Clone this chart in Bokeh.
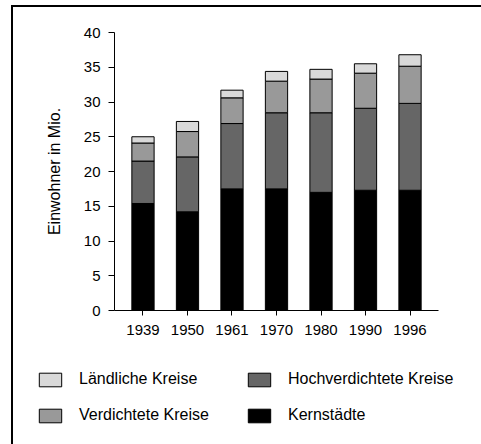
from bokeh.plotting import figure
from bokeh.models import (FactorRange, Range1d, SingleIntervalTicker, Legend,
                          LegendItem, ColumnDataSource)
from bokeh.embed import file_html
from bokeh.resources import INLINE

years = ["1939", "1950", "1961", "1970", "1980", "1990", "1996"]
kernstaedte = [15.4, 14.2, 17.5, 17.5, 17.0, 17.3, 17.3]
hochverdichtet = [6.1, 7.9, 9.4, 10.95, 11.45, 11.8, 12.5]
verdichtet = [2.6, 3.65, 3.7, 4.55, 4.85, 5.05, 5.35]
laendlich = [0.9, 1.45, 1.1, 1.4, 1.4, 1.35, 1.65]

series = ["kern", "hoch", "verd", "laend"]
labels = ["Kernstädte", "Hochverdichtete Kreise", "Verdichtete Kreise", "Ländliche Kreise"]
colors = ["#000000", "#666666", "#999999", "#d9d9d9"]

source = ColumnDataSource(dict(years=years, kern=kernstaedte, hoch=hochverdichtet,
                               verd=verdichtet, laend=laendlich))

FONT = "Liberation Sans"

# ---- main chart (canvas starts at page (13, 7) because of css margin + border)
p = figure(width=468, height=343, output_backend="svg", toolbar_location=None,
           x_range=FactorRange(factors=years, range_padding=0.14,
                               range_padding_units="absolute"),
           y_range=Range1d(0, 40),
           min_border_left=101, min_border_right=43,
           min_border_top=25, min_border_bottom=40)
p.frame_width = 324
p.frame_height = 278
p.styles = {"margin-left": "11px", "margin-top": "5px",
            "border-left": "2px solid #000000", "border-top": "2px solid #000000"}

renderers = p.vbar_stack(series, x="years", width=0.5, source=source,
                         fill_color=colors, line_color="#000000", line_width=1)

p.outline_line_color = None
p.xgrid.grid_line_color = None
p.ygrid.grid_line_color = None
p.background_fill_color = "white"
p.border_fill_color = "white"

p.yaxis.ticker = SingleIntervalTicker(interval=5)
p.yaxis.minor_tick_line_color = None
p.yaxis.major_tick_in = 0
p.yaxis.major_tick_out = 6
p.yaxis.major_label_standoff = 8
p.yaxis.axis_label = "Einwohner in Mio."
p.yaxis.axis_label_text_font = FONT
p.yaxis.axis_label_text_font_size = "16px"
p.yaxis.axis_label_text_font_style = "normal"
p.yaxis.axis_label_text_color = "#000000"
p.yaxis.axis_label_standoff = 18

p.xaxis.major_tick_in = 0
p.xaxis.major_tick_out = 5
p.xaxis.major_label_standoff = 9

for ax in (p.xaxis, p.yaxis):
    ax.axis_line_color = "#000000"
    ax.major_tick_line_color = "#000000"
    ax.major_label_text_font = FONT
    ax.major_label_text_font_size = "15px"
    ax.major_label_text_color = "#000000"

# ---- legend panel (separate root figure without axes, directly below)
q = figure(width=468, height=94, output_backend="svg", toolbar_location=None,
           x_range=FactorRange(factors=years), y_range=Range1d(0, 1),
           x_axis_location=None, y_axis_location=None,
           min_border=0, min_border_left=0, min_border_right=0,
           min_border_top=0, min_border_bottom=0)
q.outline_line_color = None
q.xgrid.visible = False
q.ygrid.visible = False
q.background_fill_color = "white"
q.border_fill_color = "white"
q.styles = {"margin-left": "11px", "border-left": "2px solid #000000"}

legend_renderers = q.vbar_stack(series, x="years", width=0.5, source=source,
                                fill_color=colors, line_color="#000000", line_width=1)
for r in legend_renderers:
    r.visible = False
lk, lh, lv, ll = legend_renderers

legend = Legend(items=[LegendItem(label=labels[3], renderers=[ll]),
                       LegendItem(label=labels[2], renderers=[lv]),
                       LegendItem(label=labels[1], renderers=[lh]),
                       LegendItem(label=labels[0], renderers=[lk])],
                location=(23, 20), orientation="vertical", ncols=2,
                glyph_width=28, glyph_height=17, label_height=17, label_width=148,
                label_standoff=15, spacing=18, padding=0, margin=0,
                border_line_color=None, background_fill_alpha=0,
                inactive_fill_alpha=0,
                label_text_font=FONT, label_text_font_size="16px",
                label_text_color="#000000")
q.add_layout(legend)

open("out.html", "w").write(file_html([p, q], INLINE))
